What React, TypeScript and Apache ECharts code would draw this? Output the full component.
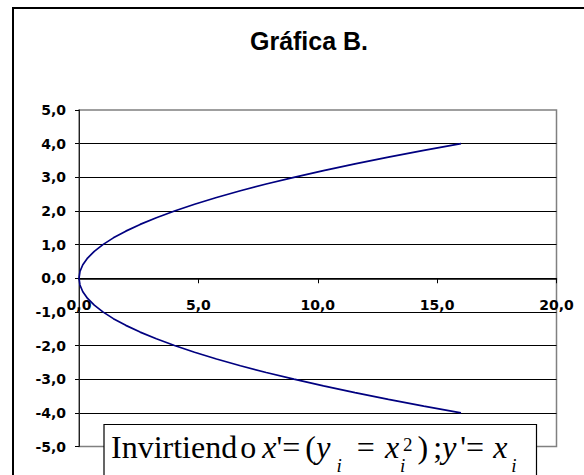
import React, { useEffect, useRef } from "react";
import * as echarts from "echarts";

const titleText = "Gráfica B.";
const xTicks = [0, 5, 10, 15, 20];
const yTicks = [-5, -4, -3, -2, -1, 0, 1, 2, 3, 4, 5];
const yPrime = [
  -4.0, -3.8, -3.6, -3.4, -3.2, -3.0, -2.8, -2.6, -2.4, -2.2, -2.0, -1.8, -1.6, -1.4, -1.2, -1.0, -0.8, -0.6, -0.4, -0.2,
  0.0, 0.2, 0.4, 0.6, 0.8, 1.0, 1.2, 1.4, 1.6, 1.8, 2.0, 2.2, 2.4, 2.6, 2.8, 3.0, 3.2, 3.4, 3.6, 3.8, 4.0,
];
const xPrime = [
  16.0, 14.44, 12.96, 11.56, 10.24, 9.0, 7.84, 6.76, 5.76, 4.84, 4.0, 3.24, 2.56, 1.96, 1.44, 1.0, 0.64, 0.36, 0.16, 0.04,
  0.0, 0.04, 0.16, 0.36, 0.64, 1.0, 1.44, 1.96, 2.56, 3.24, 4.0, 4.84, 5.76, 6.76, 7.84, 9.0, 10.24, 11.56, 12.96, 14.44, 16.0,
];

const fmt = (v: number) => v.toFixed(1).replace(".", ",");

const GRID_TOP = 110;
const GRID_BOTTOM = 28.5;
const CHART_H = 475;

export default function App() {
  const ref = useRef<HTMLDivElement>(null);
  useEffect(() => {
    if (!ref.current) return;
    const chart = echarts.init(ref.current, null, { renderer: "svg" });
    const serif = "'Liberation Serif', 'Times New Roman', serif";
    const data = xPrime.map((x, i) => [x, yPrime[i]]);
    const yMin = yTicks[0];
    const yMax = yTicks[yTicks.length - 1];
    const plotH = CHART_H - GRID_TOP - GRID_BOTTOM;
    const zeroOffset = -plotH * ((0 - yMin) / (yMax - yMin));
    const labelStyle = {
      color: "#000",
      fontFamily: "'DejaVu Sans', Arial, sans-serif",
      fontWeight: "bold" as const,
      fontSize: 14,
    };
    const base = { fontFamily: serif, fill: "#000", color: "#000", verticalAlign: "top" as const };
    const main = (pl: number) => ({ ...base, fontSize: 32, lineHeight: 40, padding: [0, 0, 0, pl] });
    const ital = (pl: number) => ({ ...main(pl), fontStyle: "italic" as const });
    const sub = (pl: number) => ({
      ...base,
      fontSize: 19,
      lineHeight: 19,
      fontStyle: "italic" as const,
      padding: [25, 0, 0, pl],
    });
    chart.setOption({
      animation: false,
      backgroundColor: "#fff",
      title: {
        text: titleText,
        left: 304,
        textAlign: "center",
        top: 23,
        textStyle: {
          fontFamily: "'Liberation Sans', Arial, sans-serif",
          fontWeight: "bold",
          fontSize: 25,
          color: "#000",
        },
      },
      grid: {
        left: 79,
        right: 27.5,
        top: GRID_TOP,
        bottom: GRID_BOTTOM,
        show: true,
        borderColor: "#808080",
        borderWidth: 1.5,
        backgroundColor: "transparent",
      },
      xAxis: {
        type: "value",
        position: "bottom",
        offset: zeroOffset,
        min: xTicks[0],
        max: xTicks[xTicks.length - 1],
        interval: 5,
        axisLine: { show: true, onZero: false, lineStyle: { color: "#000", width: 1.5 } },
        axisTick: { show: true, inside: false, length: 5, lineStyle: { color: "#000" } },
        axisLabel: { ...labelStyle, margin: 20, formatter: (v: number) => fmt(v) },
        splitLine: { show: false },
      },
      yAxis: {
        type: "value",
        min: yMin,
        max: yMax,
        interval: 1,
        axisLine: { show: true, onZero: false, lineStyle: { color: "#222", width: 1 } },
        axisTick: { show: true, inside: false, length: 4, lineStyle: { color: "#000" } },
        axisLabel: { ...labelStyle, margin: 13, formatter: (v: number) => fmt(v) },
        splitLine: { show: true, showMinLine: false, showMaxLine: false, lineStyle: { color: "#000", width: 1 } },
      },
      series: [
        {
          type: "line",
          data,
          showSymbol: false,
          symbol: "none",
          smooth: false,
          clip: false,
          lineStyle: { color: "#000080", width: 1.7 },
        },
      ],
      graphic: [
        {
          type: "rect",
          z: 0,
          silent: true,
          shape: { x: 13, y: 8, width: 620, height: 520 },
          style: { fill: "none", stroke: "#000", lineWidth: 2 },
        },
        {
          type: "rect",
          z: 50,
          silent: true,
          shape: { x: 104, y: 424.5, width: 432.5, height: 70 },
          style: { fill: "#fff", stroke: "#000", lineWidth: 1.2 },
        },
        {
          type: "text",
          z: 51,
          silent: true,
          x: 111,
          y: 430.5,
          style: {
            text:
              "{m0|Invirtiend}{m1|o}{i2|x}{m3|'=}{m4|(}{i5|y}{s6|i}{m7|=}{i8|x}{s9|i}{p10|2}{m11|)}{m12|;}{i13|y}{m14|'=}{i15|x}{s16|i}",
            verticalAlign: "top",
            align: "left",
            rich: {
              m0: main(0),
              m1: main(3),
              i2: ital(6),
              m3: main(0),
              m4: main(5),
              i5: ital(0.5),
              s6: sub(6),
              m7: main(15),
              i8: ital(10),
              s9: { ...sub(1), width: 3 },
              p10: { ...base, fontSize: 19, lineHeight: 19, padding: [4, 0, 0, 0] },
              m11: main(5),
              m12: main(5),
              i13: ital(0),
              m14: main(4),
              i15: ital(9),
              s16: sub(4),
            },
          },
        },
      ],
    });
    return () => chart.dispose();
  }, []);
  return (
    <div
      ref={ref}
      style={{ position: "fixed", left: 0, top: 0, width: 584, height: 475, background: "#fff" }}
    />
  );
}
